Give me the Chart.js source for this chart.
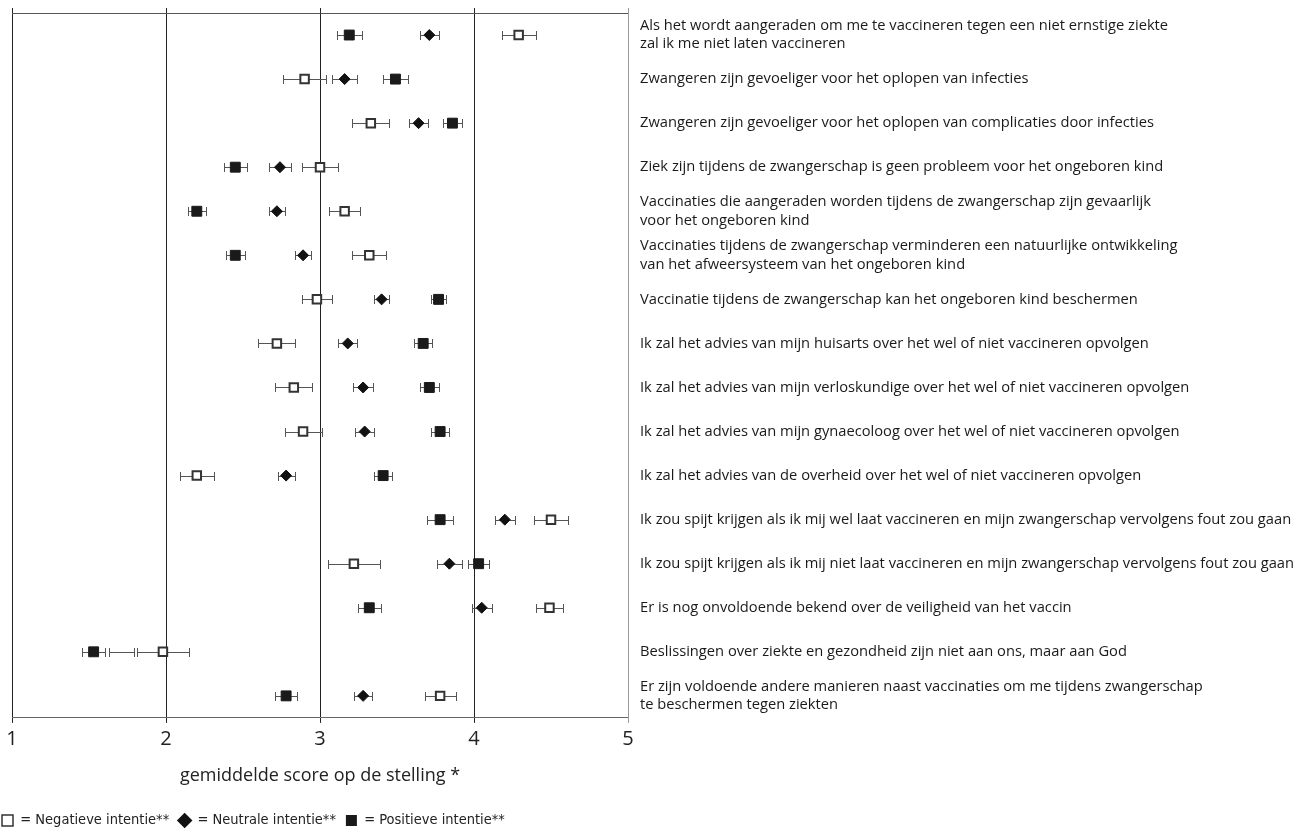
<!DOCTYPE html>
<html>
<head>
<meta charset="utf-8">
<script src="https://cdn.jsdelivr.net/npm/chart.js@4.4.1/dist/chart.umd.min.js"></script>
<style>
  html, body { margin: 0; padding: 0; background: #fff; }
  #wrap { width: 1296px; height: 832px; }
</style>
</head>
<body>
<div id="wrap"><canvas id="chart"></canvas></div>
<script>
// Statements (top to bottom)
const statements = [
  ['Als het wordt aangeraden om me te vaccineren tegen een niet ernstige ziekte', 'zal ik me niet laten vaccineren'],
  'Zwangeren zijn gevoeliger voor het oplopen van infecties',
  'Zwangeren zijn gevoeliger voor het oplopen van complicaties door infecties',
  'Ziek zijn tijdens de zwangerschap is geen probleem voor het ongeboren kind',
  ['Vaccinaties die aangeraden worden tijdens de zwangerschap zijn gevaarlijk', 'voor het ongeboren kind'],
  ['Vaccinaties tijdens de zwangerschap verminderen een natuurlijke ontwikkeling', 'van het afweersysteem van het ongeboren kind'],
  'Vaccinatie tijdens de zwangerschap kan het ongeboren kind beschermen',
  'Ik zal het advies van mijn huisarts over het wel of niet vaccineren opvolgen',
  'Ik zal het advies van mijn verloskundige over het wel of niet vaccineren opvolgen',
  'Ik zal het advies van mijn gynaecoloog over het wel of niet vaccineren opvolgen',
  'Ik zal het advies van de overheid over het wel of niet vaccineren opvolgen',
  'Ik zou spijt krijgen als ik mij wel laat vaccineren en mijn zwangerschap vervolgens fout zou gaan',
  'Ik zou spijt krijgen als ik mij niet laat vaccineren en mijn zwangerschap vervolgens fout zou gaan',
  'Er is nog onvoldoende bekend over de veiligheid van het vaccin',
  'Beslissingen over ziekte en gezondheid zijn niet aan ons, maar aan God',
  ['Er zijn voldoende andere manieren naast vaccinaties om me tijdens zwangerschap', 'te beschermen tegen ziekten']
];

// Mean score per intention group, with half-width of the error bar
const negativeMean = [4.29, 2.90, 3.33, 3.00, 3.16, 3.32, 2.98, 2.72, 2.83, 2.89, 2.20, 4.50, 3.22, 4.49, 1.98, 3.78];
const negativeErr  = [0.11, 0.14, 0.12, 0.12, 0.10, 0.11, 0.10, 0.12, 0.12, 0.12, 0.11, 0.11, 0.17, 0.09, 0.17, 0.10];
const neutralMean  = [3.71, 3.16, 3.64, 2.74, 2.72, 2.89, 3.40, 3.18, 3.28, 3.29, 2.78, 4.20, 3.84, 4.05, 1.71, 3.28];
const neutralErr   = [0.06, 0.08, 0.06, 0.07, 0.05, 0.05, 0.05, 0.06, 0.065, 0.06, 0.055, 0.065, 0.08, 0.065, 0.08, 0.06];
const positiveMean = [3.19, 3.49, 3.86, 2.45, 2.20, 2.45, 3.77, 3.67, 3.71, 3.78, 3.41, 3.78, 4.03, 3.32, 1.53, 2.78];
const positiveErr  = [0.08, 0.08, 0.06, 0.075, 0.06, 0.06, 0.05, 0.06, 0.06, 0.06, 0.06, 0.085, 0.07, 0.075, 0.075, 0.07];

// Rows where the neutral group has only its error bar printed (no marker)
const neutralBarOnly = [14];

const scoreTicks = [1, 2, 3, 4, 5];
const seriesNames = ['Negatieve intentie**', 'Neutrale intentie**', 'Positieve intentie**'];
const axisTitle = 'gemiddelde score op de stelling *';

const FONT = "'Open Sans', 'Liberation Sans', sans-serif";
const NARROW_FONT = "'DejaVu Sans Condensed', 'Liberation Sans Narrow', 'Open Sans', sans-serif";

// Horizontal error bars with end caps, drawn beneath the markers
const errorBarPlugin = {
  id: 'errorBars',
  beforeDatasetsDraw(chart) {
    const { ctx } = chart;
    const xs = chart.scales.x, ys = chart.scales.y;
    ctx.save();
    ctx.strokeStyle = '#555';
    ctx.lineWidth = 1;
    chart.data.datasets.forEach(ds => {
      ds.data.forEach((v, i) => {
        if (v == null) return;
        const e = ds.errors[i];
        const yy = Math.round(ys.getPixelForValue(i)) + 0.5;
        const x0 = Math.round(xs.getPixelForValue(v - e)) + 0.5;
        const x1 = Math.round(xs.getPixelForValue(v + e)) + 0.5;
        ctx.beginPath();
        ctx.moveTo(x0, yy); ctx.lineTo(x1, yy);
        ctx.moveTo(x0, yy - 4.5); ctx.lineTo(x0, yy + 4.5);
        ctx.moveTo(x1, yy - 4.5); ctx.lineTo(x1, yy + 4.5);
        ctx.stroke();
      });
    });
    ctx.restore();
  }
};

// Pull the legend row flush with the left edge of the figure
const legendShift = {
  id: 'legendShift',
  afterLayout(chart) {
    if (chart.legend) { chart.legend.left -= 20; }
  }
};

const datasets = [
  {
    label: seriesNames[0],
    data: negativeMean,
    errors: negativeErr,
    pointStyle: 'rect',
    pointRadius: 6,
    pointHoverRadius: 6,
    pointBackgroundColor: '#fff',
    pointBorderColor: '#333',
    pointBorderWidth: 2,
    showLine: false
  },
  {
    label: seriesNames[1],
    data: neutralMean,
    errors: neutralErr,
    pointStyle: 'rectRot',
    pointRadius: ctx => neutralBarOnly.includes(ctx.dataIndex) ? 0 : 5.5,
    pointHoverRadius: ctx => neutralBarOnly.includes(ctx.dataIndex) ? 0 : 5.5,
    pointBackgroundColor: '#111',
    pointBorderColor: '#111',
    pointBorderWidth: 1,
    showLine: false
  },
  {
    label: seriesNames[2],
    data: positiveMean,
    errors: positiveErr,
    pointStyle: 'rect',
    pointRadius: 7,
    pointHoverRadius: 7,
    pointBackgroundColor: '#1a1a1a',
    pointBorderColor: '#1a1a1a',
    pointBorderWidth: 1,
    showLine: false
  }
];

new Chart(document.getElementById('chart'), {
  type: 'line',
  data: { labels: statements, datasets },
  plugins: [errorBarPlugin, legendShift],
  options: {
    indexAxis: 'y',
    responsive: true,
    maintainAspectRatio: false,
    animation: false,
    layout: { padding: { left: 12, top: 8, right: 0, bottom: -5.7 } },
    scales: {
      x: {
        type: 'linear',
        position: 'bottom',
        min: 1, max: 5,
        afterBuildTicks: s => { s.ticks = scoreTicks.map(v => ({ value: v })); },
        ticks: { color: '#222', font: { family: FONT, size: 20 }, padding: 4 },
        grid: {
          color: c => c.tick && c.tick.value === 5 ? '#999' : '#222',
          lineWidth: 1,
          tickLength: 5,
          drawTicks: true
        },
        border: { display: true, color: '#666', width: 1 },
        title: {
          display: true,
          text: axisTitle,
          color: '#222',
          font: { family: FONT, size: 18 },
          padding: { top: 10, bottom: 16.7 }
        }
      },
      xTop: {
        type: 'linear',
        position: 'top',
        min: 1, max: 5,
        afterBuildTicks: s => { s.ticks = scoreTicks.map(v => ({ value: v })); },
        ticks: { display: false },
        grid: {
          drawOnChartArea: false,
          tickLength: 5,
          color: c => c.tick && c.tick.value === 5 ? '#999' : '#222'
        },
        border: { display: true, color: '#555', width: 1 }
      },
      y: {
        type: 'category',
        position: 'right',
        offset: true,
        grid: { display: false, drawTicks: false },
        border: { display: true, color: '#999', width: 1 },
        ticks: {
          autoSkip: false,
          color: '#1a1a1a',
          padding: 12,
          font: { family: FONT, size: 14.7, lineHeight: 1.24 }
        },
        afterFit: s => {
          s.width = 668;
          s.paddingTop = 0;
          s.paddingBottom = 0;
        }
      }
    },
    plugins: {
      tooltip: { enabled: false },
      legend: {
        position: 'bottom',
        align: 'start',
        labels: {
          usePointStyle: true,
          boxWidth: 11,
          boxHeight: 11,
          padding: 10,
          color: '#222',
          font: { family: NARROW_FONT, size: 14.5 },
          generateLabels: chart => chart.data.datasets.map((ds, i) => ({
            text: '= ' + ds.label,
            pointStyle: ds.pointStyle,
            fillStyle: ds.pointBackgroundColor,
            strokeStyle: ds.pointBorderColor,
            lineWidth: i === 0 ? 1.5 : 0,
            fontColor: '#222',
            datasetIndex: i,
            hidden: false
          }))
        }
      }
    }
  }
});
</script>
</body>
</html>
